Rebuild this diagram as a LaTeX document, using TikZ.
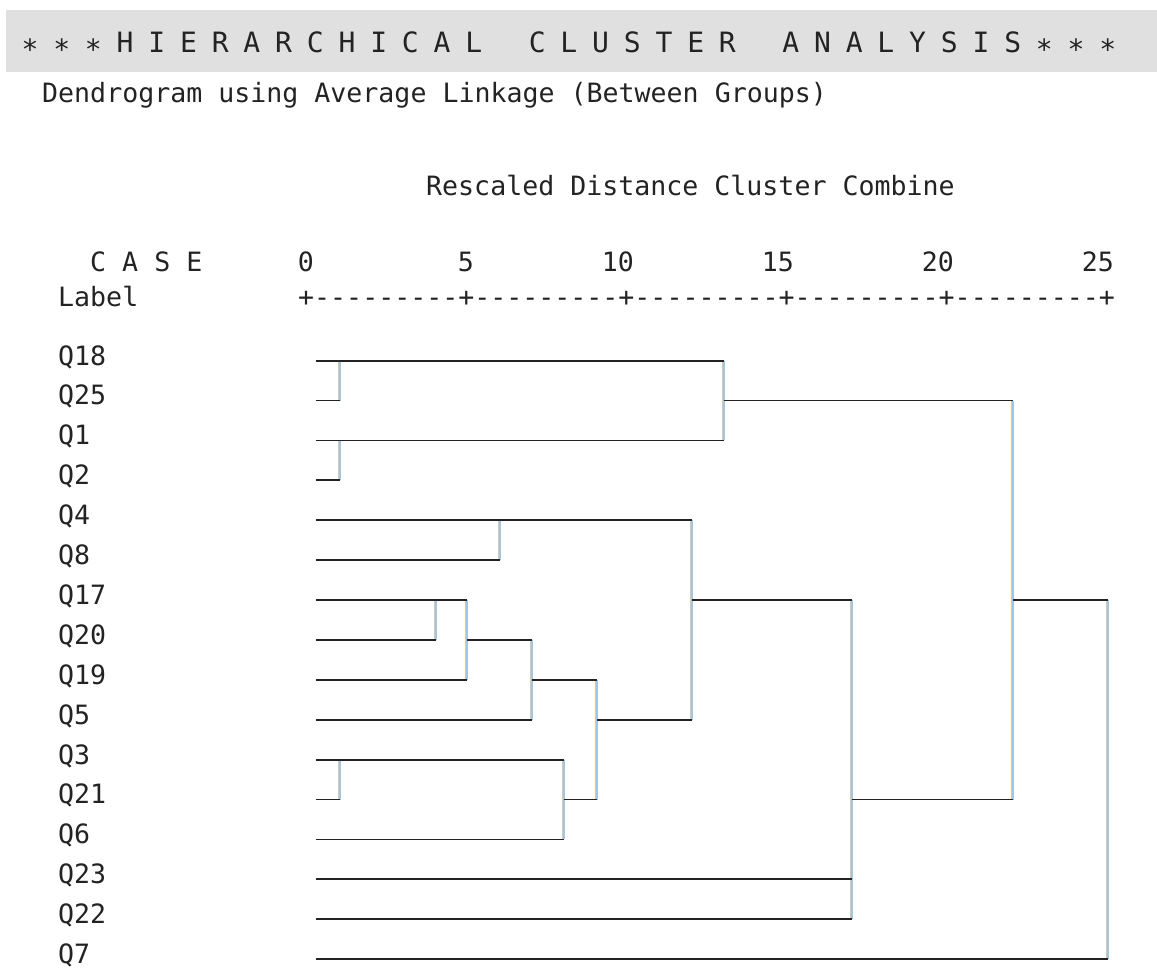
\documentclass[tikz,border=0pt]{standalone}
\usepackage{fontspec}
\setmonofont{DejaVu Sans Mono}
\definecolor{bandgray}{RGB}{224,224,224}
\definecolor{inkblack}{RGB}{35,35,35}
\definecolor{joinorange}{RGB}{242,196,138}
\definecolor{joinblue}{RGB}{150,200,242}
\newcommand{\ry}[1]{360.6+39.9*#1}
\begin{document}
\begin{tikzpicture}[x=1pt, y=-1pt,
    txt/.style={font=\ttfamily\fontsize{26.6}{30}\selectfont, text=inkblack, inner sep=0pt, anchor=base west},
    hleg/.style={draw=inkblack, line width=1.8pt},
    vjoin/.style={draw=joinblue, line width=1.1pt,
        preaction={draw=joinorange, line width=1.1pt, transform canvas={xshift=-1.1pt}}}]
    \useasboundingbox (0,0) rectangle (1157,969);

    % Header band
    \fill[bandgray] (6,10) rectangle (1157,72);
    \foreach \ch [count=\k from 0] in {{\raisebox{-7pt}{*}},{\raisebox{-7pt}{*}},{\raisebox{-7pt}{*}},
        H,I,E,R,A,R,C,H,I,C,A,L,{},C,L,U,S,T,E,R,{},A,N,A,L,Y,S,I,S,
        {\raisebox{-7pt}{*}},{\raisebox{-7pt}{*}},{\raisebox{-7pt}{*}}}
        \node[txt, anchor=base, font=\ttfamily\fontsize{28}{30}\selectfont] (t\k) at (30+31.7*\k, 52) {\ch};

    % --- TEXT ---
    \node[txt] (dendro) at (42,102) {Dendrogram using Average Linkage (Between Groups)};
    \node[txt] (rescaled) at (426,195) {Rescaled Distance Cluster Combine};
    \node[txt] (case) at (90,271) {C A S E};
    \node[txt] (label) at (58,306) {Label};
    \foreach \v [count=\k from 0] in {0,5,10,15,20,25}
        \node[txt, anchor=base east] (n\v) at (314+160*\k, 271) {\v};
    \node[txt] (scale) at (298,306) {+---------+---------+---------+---------+---------+};

    % Leaves
    \foreach \lab [count=\i from 0] in {Q18,Q25,Q1,Q2,Q4,Q8,Q17,Q20,Q19,Q5,Q3,Q21,Q6,Q23,Q22,Q7} {
        \node[txt] (l\lab) at (58, 365+39.9*\i) {\lab};
        \coordinate (s\lab) at (316, \ry{\i});
    }

    % Joins (x / top row / bottom row)
    \foreach \m/\x/\t/\b in {1/340/0/1, 2/340/2/3, 3/724/0/2, 4/500/4/5, 5/436/6/7,
        6/467/6/8, 7/532/7/9, 8/340/10/11, 9/564/10/12, 10/597/8/11,
        11/692/4/9, 12/852/6/14, 13/1013/1/11, 14/1108/6/15} {
        \coordinate (m\m t) at (\x, \ry{\t});
        \coordinate (m\m b) at (\x, \ry{\b});
        \draw[vjoin] (m\m t) -- (m\m b);
    }

    % Branches
    \draw[hleg] (sQ18) -- (m3t);
    \draw[hleg] (sQ25) -- (m1b);
    \draw[hleg] (sQ1) -- (m3b);
    \draw[hleg] (sQ2) -- (m2b);
    \draw[hleg] (m3t |- sQ25) -- (m13t);
    \draw[hleg] (sQ4) -- (m11t);
    \draw[hleg] (sQ8) -- (m4b);
    \draw[hleg] (sQ17) -- (m6t);
    \draw[hleg] (sQ20) -- (m5b);
    \draw[hleg] (m6t |- sQ20) -- (m7t);
    \draw[hleg] (sQ19) -- (m6b);
    \draw[hleg] (m7t |- sQ19) -- (m10t);
    \draw[hleg] (sQ5) -- (m7b);
    \draw[hleg] (m10t |- sQ5) -- (m11b);
    \draw[hleg] (sQ3) -- (m9t);
    \draw[hleg] (sQ21) -- (m8b);
    \draw[hleg] (m9t |- sQ21) -- (m10b);
    \draw[hleg] (sQ6) -- (m9b);
    \draw[hleg] (m11t |- sQ17) -- (m12t);
    \draw[hleg] (sQ23) -- (m12t |- sQ23);
    \draw[hleg] (sQ22) -- (m12b);
    \draw[hleg] (m12t |- sQ21) -- (m13b);
    \draw[hleg] (m13t |- sQ17) -- (m14t);
    \draw[hleg] (sQ7) -- (m14b);
\end{tikzpicture}
\end{document}
